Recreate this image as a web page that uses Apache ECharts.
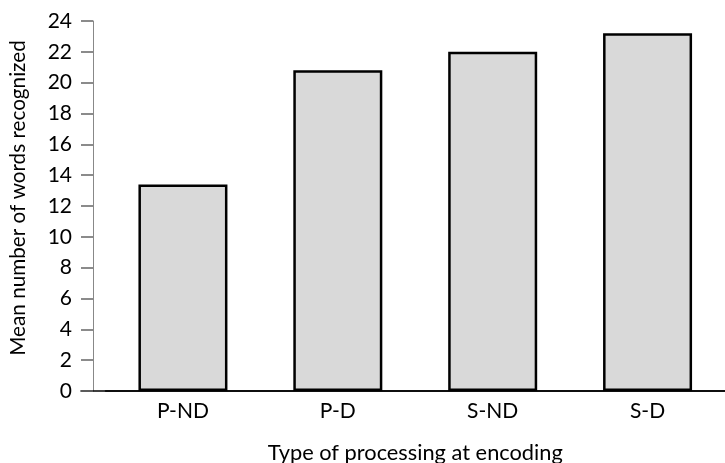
<!DOCTYPE html>
<html><head><meta charset="utf-8">
<script src="https://cdn.jsdelivr.net/npm/echarts@6/dist/echarts.min.js"></script>
<style>html,body{margin:0;padding:0;background:#fff}#c{width:725px;height:463px}</style>
</head><body><div id="c"></div>
<script>
const categories = ['P-ND', 'P-D', 'S-ND', 'S-D'];
const meanWords = [13.4, 20.8, 22.0, 23.2];
const yTicks = [0, 24, 2];
const xTitle = 'Type of processing at encoding';
const yTitle = 'Mean number of words recognized';

const FONT = 'Lato';
const chart = echarts.init(document.getElementById('c'));
chart.setOption({
  animation: false,
  grid: [
    {left: 105.5, right: 0, top: 21, bottom: 72, outerBoundsMode: 'none', containLabel: false},
    {left: 81, right: 0, top: 21, bottom: 72, outerBoundsMode: 'none', containLabel: false}
  ],
  xAxis: [{
    type: 'category', data: categories, gridIndex: 0,
    axisLine: {lineStyle: {color: '#000', width: 1.5}},
    axisTick: {show: false},
    axisLabel: {color: '#000', fontFamily: FONT, fontSize: 21, margin: 10},
    name: xTitle, nameLocation: 'middle', nameGap: 51,
    nameTextStyle: {color: '#000', fontFamily: FONT, fontSize: 21.8}
  }, {
    type: 'value', gridIndex: 1, min: 0, max: 1,
    axisLine: {show: true, lineStyle: {color: '#000', width: 1.5}},
    axisTick: {show: false}, axisLabel: {show: false}, splitLine: {show: false}
  }],
  yAxis: [{
    type: 'value', gridIndex: 0, min: yTicks[0], max: yTicks[1], interval: yTicks[2],
    offset: 12.5,
    axisLine: {show: true, lineStyle: {color: '#888', width: 1}},
    axisTick: {show: true, length: 12, lineStyle: {color: '#666', width: 1.5}},
    splitLine: {show: false},
    axisLabel: {color: '#000', fontFamily: FONT, fontSize: 21, margin: 21},
    name: yTitle, nameLocation: 'middle', nameGap: 64, nameRotate: 90,
    nameTextStyle: {color: '#000', fontFamily: FONT, fontSize: 20.7, padding: [0, 0, 0, 16]}
  }, {
    type: 'value', gridIndex: 1, min: 0, max: 1, show: false
  }],
  series: [{
    type: 'bar', data: meanWords, xAxisIndex: 0, yAxisIndex: 0,
    barWidth: 89,
    itemStyle: {color: '#d9d9d9', borderColor: '#000', borderWidth: 2.5}
  }]
});
</script></body></html>
